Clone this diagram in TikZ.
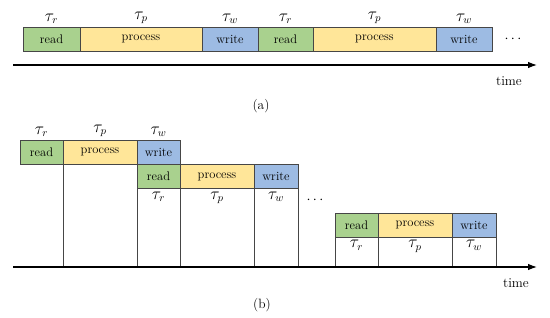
\documentclass[tikz,border=0pt]{standalone}
\usetikzlibrary{arrows.meta}
\definecolor{rgreen}{RGB}{169,209,142}
\definecolor{pyellow}{RGB}{255,230,153}
\definecolor{wblue}{RGB}{157,187,227}
\definecolor{edgegrey}{RGB}{70,70,70}
\begin{document}
\begin{tikzpicture}[x=1pt,y=-1pt,
  box/.style={draw=edgegrey,line width=0.7pt,inner sep=0pt,outer sep=0pt,anchor=north west,minimum height=24pt,font=\fontsize{12.5}{14}\selectfont},
  rbox/.style={box,fill=rgreen},
  pbox/.style={box,fill=pyellow},
  wbox/.style={box,fill=wblue},
  tau/.style={font=\fontsize{16}{18}\selectfont,inner sep=0pt},
  axis/.style={line width=1.1pt,-{Latex[length=9pt,width=6.5pt]}},
  vline/.style={draw=edgegrey,line width=0.5pt},
  lbl/.style={font=\fontsize{13.5}{15}\selectfont,inner sep=0pt}]
\useasboundingbox (0,0) rectangle (550,318);
% ---------- (a)
\node[rbox,minimum width=57pt] (a1) at (23,27) {read};
\node[pbox,minimum width=122pt] (a2) at (80,27) {process};
\node[wbox,minimum width=56pt] (a3) at (202,27) {write};
\node[rbox,minimum width=55pt] (a4) at (258,27) {read};
\node[pbox,minimum width=123pt] (a5) at (313,27) {process};
\node[wbox,minimum width=56pt] (a6) at (436,27) {write};
\node[lbl] (adots) at (513,39) {$\cdots$};
\foreach \n/\s in {a1/r,a2/p,a3/w,a4/r,a5/p,a6/w}
  \node[tau,above=3pt] (t\n) at (\n.north) {$\tau_{\s}$};
\coordinate (axa0) at (13,65);
\coordinate (axa1) at (537,65);
\draw[axis] (axa0) -- (axa1);
\node[lbl] (timea) at (509,81) {time};
\node[lbl] (capa) at (261,106) {(a)};
% ---------- (b)
\node[rbox,minimum width=43pt] (b1) at (20,140) {read};
\node[pbox,minimum width=74pt] (b2) at (63,140) {process};
\node[wbox,minimum width=43pt] (b3) at (137,140) {write};
\node[rbox,minimum width=43pt] (c1) at (137,164.5) {read};
\node[pbox,minimum width=74pt] (c2) at (180,164.5) {process};
\node[wbox,minimum width=44pt] (c3) at (254,164.5) {write};
\node[rbox,minimum width=43pt] (d1) at (335,213) {read};
\node[pbox,minimum width=74pt] (d2) at (378,213) {process};
\node[wbox,minimum width=44pt] (d3) at (452,213) {write};
\foreach \n/\s in {b1/r,b2/p,b3/w}
  \node[tau,above=3pt] (t\n) at (\n.north) {$\tau_{\s}$};
\foreach \n/\s in {c1/r,c2/p,c3/w,d1/r,d2/p,d3/w}
  \node[tau,below=3pt] (t\n) at (\n.south) {$\tau_{\s}$};
\node[lbl] (bdots) at (315,200) {$\cdots$};
\coordinate (axb0) at (13,267);
\coordinate (axb1) at (537,267);
\draw[vline] (b2.south west) -- (b2.south west |- axb0);
\foreach \n in {c1,c2,c3,d1,d2,d3} {
  \draw[vline] (\n.south west) -- (\n.south west |- axb0);
}
\draw[vline] (c3.south east) -- (c3.south east |- axb0);
\draw[vline] (d3.south east) -- (d3.south east |- axb0);
\draw[axis] (axb0) -- (axb1);
\node[lbl] (timeb) at (516,283) {time};
\node[lbl] (capb) at (262,305) {(b)};
\end{tikzpicture}
\end{document}
